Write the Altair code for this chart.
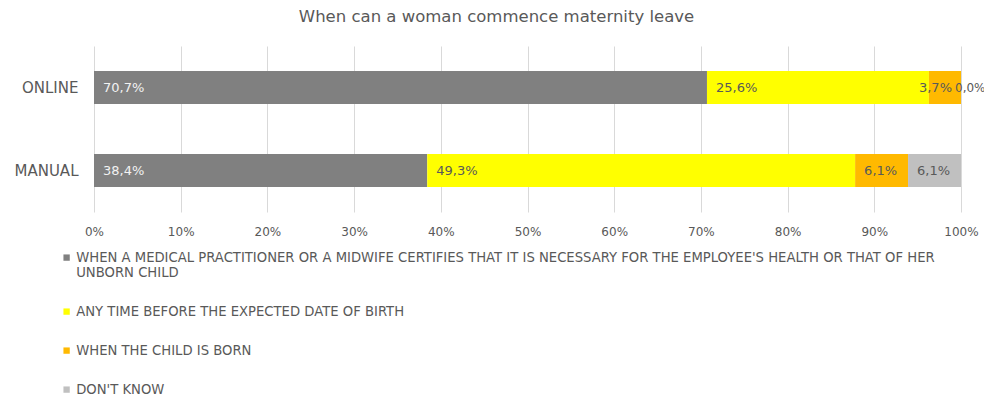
import altair as alt
import pandas as pd

categories = ["ONLINE", "MANUAL"]
series = [
    "WHEN A MEDICAL PRACTITIONER OR A MIDWIFE CERTIFIES THAT IT IS NECESSARY FOR THE EMPLOYEE'S HEALTH OR THAT OF HER UNBORN CHILD",
    "ANY TIME BEFORE THE EXPECTED DATE OF BIRTH",
    "WHEN THE CHILD IS BORN",
    "DON'T KNOW",
]
online_values = [70.7, 25.6, 3.7, 0.0]
manual_values = [38.4, 49.3, 6.1, 6.1]
colors = ["#808080", "#FFFF00", "#FFB900", "#C0C0C0"]
x_ticks = [0, 0.1, 0.2, 0.3, 0.4, 0.5, 0.6, 0.7, 0.8, 0.9, 1.0]

rows = []
for cat, vals in zip(categories, [online_values, manual_values]):
    for i, (s, v) in enumerate(zip(series, vals)):
        rows.append({"category": cat, "series": s, "order": i, "value": v})
df = pd.DataFrame(rows)

FONT = "DejaVu Sans"
GREY = "#595959"

# legend wrap of the long first entry
wrap_word = " UNBORN"
first_a, first_b = series[0].split(wrap_word)
label_expr = (
    f'length(datum.label) > 60 ? '
    f'["{first_a}", "{wrap_word.strip()}{first_b}"] : datum.label'
)

base = alt.Chart(df).transform_stack(
    stack="value",
    as_=["x0", "x1"],
    groupby=["category"],
    sort=[alt.SortField("order", order="ascending")],
    offset="normalize",
).transform_calculate(
    label="replace(format(datum.value, '.1f'), '.', ',') + '%'"
)

y_enc = alt.Y(
    "category:N",
    sort=categories,
    title=None,
    scale=alt.Scale(paddingInner=0.6, paddingOuter=0.3),
    axis=alt.Axis(
        domain=False, ticks=False, grid=False, labelPadding=16,
        labelFontSize=15, labelColor=GREY, labelFont=FONT,
    ),
)

bars = base.mark_bar().encode(
    y=y_enc,
    x=alt.X(
        "x0:Q",
        scale=alt.Scale(domain=[0, 1], nice=False),
        title=None,
        axis=alt.Axis(
            values=x_ticks, format=".0%", domain=False, ticks=False,
            gridColor="#d9d9d9", labelPadding=14, labelFontSize=12,
            labelColor=GREY, labelFont=FONT, labelFlush=False,
        ),
    ),
    x2="x1:Q",
    color=alt.Color(
        "series:N",
        sort=series,
        scale=alt.Scale(domain=series, range=colors),
        legend=alt.Legend(
            title=None, orient="none", legendX=-34, legendY=205,
            direction="vertical", symbolType="square", symbolSize=40,
            symbolStrokeWidth=0, labelFontSize=13.2, labelFont=FONT,
            labelColor=GREY, labelLimit=950, labelOffset=3,
            rowPadding=25, padding=0, labelExpr=label_expr,
        ),
    ),
)

text_color = alt.condition(
    alt.datum.order == 0, alt.value("#F2F2F2"), alt.value(GREY)
)

txt_normal = base.transform_filter(
    alt.datum.value >= 5
).mark_text(align="left", dx=9, fontSize=13, font=FONT).encode(
    y=y_enc, x="x0:Q", text="label:N", color=text_color
)
txt_small = base.transform_filter(
    (alt.datum.value < 5) & (alt.datum.value > 0)
).mark_text(align="right", dx=-9, fontSize=13, font=FONT).encode(
    y=y_enc, x="x1:Q", text="label:N", color=text_color
)
txt_zero = base.transform_filter(
    alt.datum.value == 0
).mark_text(align="left", dx=-6, fontSize=12, font=FONT).encode(
    y=y_enc, x="x0:Q", text="label:N", color=text_color
)

chart = alt.layer(bars, txt_normal, txt_small, txt_zero).properties(
    width=867,
    height=166,
    autosize=alt.AutoSizeParams(type="none"),
    padding={"left": 86, "top": 38, "right": 23, "bottom": 185},
    title=alt.TitleParams(
        "When can a woman commence maternity leave",
        font=FONT, fontSize=16.5, fontWeight="normal", color=GREY,
        anchor="middle", dx=-31, offset=21,
    ),
).configure_view(stroke=None)

chart.save("out.html", embed_options={"renderer": "svg", "actions": False})
